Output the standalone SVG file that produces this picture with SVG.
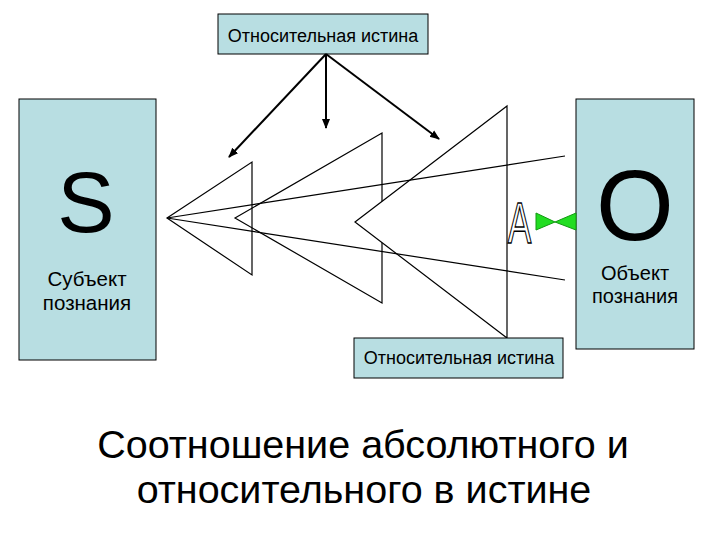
<svg xmlns="http://www.w3.org/2000/svg" width="720" height="540" viewBox="0 0 720 540">
<defs>
<style>
.box{fill:#b8dee2;stroke:#000;stroke-width:1}
.t{font-family:"Liberation Sans",Arial,sans-serif;fill:#000}
.ln{stroke:#000;stroke-width:1.2;fill:none}
.arr{stroke:#000;stroke-width:2;fill:none}
.tri{stroke:#000;stroke-width:1.2}
.g{fill:#22dd22;stroke:#139913;stroke-width:1}
</style>
<marker id="ah" viewBox="0 0 10 10" refX="9" refY="5" markerWidth="5" markerHeight="5" orient="auto" markerUnits="strokeWidth">
<path d="M0,1 L10,5 L0,9 z" fill="#000"/>
</marker>
</defs>
<rect width="720" height="540" fill="#fff"/>

<g id="subject">
<rect class="box" x="19" y="99" width="137" height="261"/>
<text class="t" x="86" y="232" font-size="86" text-anchor="middle">S</text>
<text class="t" x="87" y="286" font-size="20.5" text-anchor="middle">Субъект</text>
<text class="t" x="87" y="310" font-size="20.5" text-anchor="middle">познания</text>
</g>

<g id="object">
<rect class="box" x="576" y="99" width="118" height="250"/>
<text class="t" x="635" y="240" font-size="100" text-anchor="middle">O</text>
<text class="t" x="635" y="280" font-size="20" text-anchor="middle">Объект</text>
<text class="t" x="635" y="303" font-size="20" text-anchor="middle">познания</text>
</g>

<g id="rel-top">
<rect class="box" x="218" y="14" width="210" height="40"/>
<text class="t" x="323" y="42" font-size="18" text-anchor="middle">Относительная истина</text>
</g>

<g id="triangles">
<polygon class="tri" points="167,218 252,162 252,275" fill="none"/>
<polygon class="tri" points="235,218 382,133 382,303" fill="none"/>
<polygon class="tri" points="355,222 507,106 507,338" fill="#fff"/>
</g>

<g id="rel-bottom">
<rect class="box" x="354" y="338" width="209" height="40"/>
<text class="t" x="459" y="364" font-size="18" text-anchor="middle">Относительная истина</text>
</g>

<g id="connectors">
<line class="ln" x1="167" y1="218" x2="565" y2="156"/>
<line class="ln" x1="167" y1="218" x2="565" y2="280"/>
<line class="arr" x1="326" y1="54" x2="229" y2="157" marker-end="url(#ah)"/>
<line class="arr" x1="326" y1="54" x2="326" y2="128" marker-end="url(#ah)"/>
<line class="arr" x1="326" y1="54" x2="439" y2="139" marker-end="url(#ah)"/>
</g>

<g id="absolute">
<text x="0" y="0" transform="translate(519.5,243) scale(0.62,1)" font-family="Liberation Sans,Arial,sans-serif" font-size="57" text-anchor="middle" fill="#fff" stroke="#000" stroke-width="1.5">A</text>
<polygon class="g" points="536,213 536,230 555,222"/>
<polygon class="g" points="576,213 576,230 555,222"/>
</g>

<g id="title">
<text class="t" x="363" y="458" font-size="39.5" text-anchor="middle">Соотношение абсолютного и</text>
<text class="t" x="364" y="503" font-size="39.5" text-anchor="middle">относительного в истине</text>
</g>
</svg>
